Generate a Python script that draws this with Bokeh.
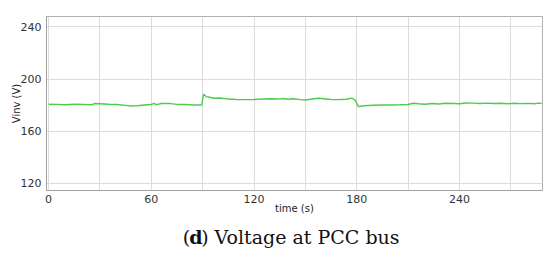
from bokeh.plotting import figure
from bokeh.models import Label, FixedTicker, Range1d
from bokeh.layouts import column
from bokeh.embed import file_html
from bokeh.resources import INLINE

time_s = [0, 5, 10, 15, 20, 25, 27, 30, 35, 40, 45, 48, 52, 56, 60, 61.5, 63, 66, 70, 75, 80, 85,
          89.5, 90.5, 92, 94, 97, 100, 105, 110, 115, 120, 125, 130, 134, 137, 140, 143, 147, 150,
          155, 158, 162, 166, 170, 174, 177, 179, 181, 184, 190, 195, 200, 205, 210, 213, 216, 220,
          224, 228, 232, 236, 240, 244, 248, 252, 256, 260, 264, 268, 272, 276, 280, 284, 286, 288]
vinv = [180.6, 180.5, 180.2, 180.6, 180.5, 180.2, 181.2, 181.0, 180.6, 180.4, 179.8, 179.3, 179.5,
        180.0, 180.4, 181.3, 180.3, 181.2, 181.3, 180.5, 180.4, 180.0,
        180.1, 188.3, 186.5, 186.0, 185.2, 185.4, 184.6, 184.3, 184.2, 184.3, 184.6, 184.8, 184.6,
        185.0, 184.5, 184.9, 184.2, 183.9,
        184.8, 185.2, 184.7, 184.2, 184.3, 184.5, 185.3, 184.0, 178.8, 179.5, 179.8, 180.0, 180.1,
        180.2, 180.4, 181.4, 181.0, 180.6,
        181.2, 180.8, 181.4, 181.2, 181.0, 181.6, 181.5, 181.2, 181.5, 181.2, 181.4, 181.0, 181.4,
        181.1, 181.3, 181.0, 181.5, 181.3]

x_tick_labels = [0, 60, 120, 180, 240]
x_grid = [0, 30, 60, 90, 120, 150, 180, 210, 240, 270]
y_ticks = [120, 160, 200, 240]
caption_open = "("
caption_tag = "d"
caption_text = ") Voltage at PCC bus"

p = figure(width=550, height=218, output_backend="svg", toolbar_location=None,
           x_range=Range1d(-1.2, 288.5), y_range=Range1d(114.4, 248.0),
           min_border_left=46, min_border_right=8, min_border_top=16, min_border_bottom=28)
p.background_fill_color = "white"
p.border_fill_color = "white"
p.outline_line_color = "#b0b0b0"

p.line(time_s, vinv, line_color="#4ccc4c", line_width=1.4)

for ax in (p.xaxis[0], p.yaxis[0]):
    ax.major_tick_in = 0
    ax.major_tick_out = 0
    ax.minor_tick_in = 0
    ax.minor_tick_out = 0
    ax.axis_line_color = "#a0a0a0"
    ax.major_label_text_font = "DejaVu Sans"
    ax.major_label_text_font_size = "11px"
    ax.major_label_text_color = "#333333"
    ax.axis_label_text_font = "DejaVu Sans"
    ax.axis_label_text_font_size = "10px"
    ax.axis_label_text_font_style = "normal"
    ax.axis_label_text_color = "#222222"

p.xaxis.ticker = FixedTicker(ticks=x_tick_labels)
p.yaxis.ticker = FixedTicker(ticks=y_ticks)
p.xaxis.axis_label = "time (s)"
p.yaxis.axis_label = "Vinv (V)"
p.xaxis.major_label_standoff = 4
p.xaxis.axis_label_standoff = -3
p.yaxis.major_label_standoff = 5
p.yaxis.axis_label_standoff = -4

p.xgrid.ticker = FixedTicker(ticks=x_grid)
p.ygrid.ticker = FixedTicker(ticks=y_ticks)
p.xgrid.grid_line_color = "#dcdcdc"
p.ygrid.grid_line_color = "#dcdcdc"

# caption strip
cap = figure(width=550, height=47, output_backend="svg", toolbar_location=None,
             x_range=Range1d(0, 550), y_range=Range1d(0, 47),
             x_axis_type=None, y_axis_type=None,
             min_border_left=0, min_border_right=0, min_border_top=0, min_border_bottom=0)
cap.outline_line_color = None
cap.grid.visible = False
cap.background_fill_color = "white"
cap.border_fill_color = "white"

cap_y = 29
font_px = "19px"
x0 = 151
cap.add_layout(Label(x=x0, y=cap_y, text=caption_open,
                     text_font="DejaVu Serif", text_font_size=font_px, text_baseline="middle",
                     text_align="left", text_color="#111111"))
cap.add_layout(Label(x=x0 + 7.3, y=cap_y, text=caption_tag,
                     text_font="DejaVu Serif", text_font_size=font_px, text_font_style="bold",
                     text_baseline="middle", text_align="left", text_color="#111111"))
cap.add_layout(Label(x=x0 + 20.5, y=cap_y, text=caption_text,
                     text_font="DejaVu Serif", text_font_size=font_px, text_baseline="middle",
                     text_align="left", text_color="#111111"))

layout = column(p, cap, spacing=0)
open("out.html", "w").write(file_html(layout, INLINE))
